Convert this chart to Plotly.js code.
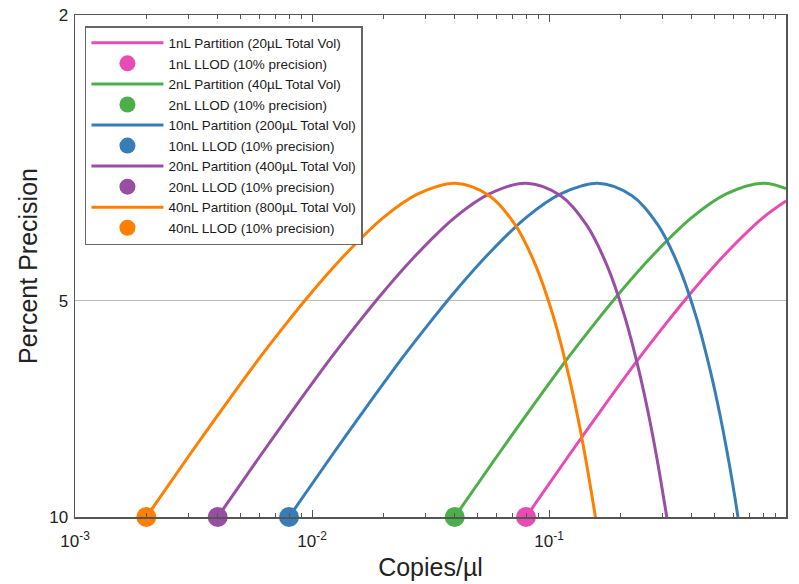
<!DOCTYPE html>
<html>
<head>
<meta charset="utf-8">
<script src="https://cdn.plot.ly/plotly-3.0.1.min.js"></script>
<style>html,body{margin:0;padding:0;background:#fff;}#chart{width:799px;height:584px;}</style>
</head>
<body>
<div id="chart"></div>
<script>
const yRead = [10, 8.25, 7.22, 6.01, 5.32, 4.86, 4.29, 3.83, 3.55, 3.43, 3.57, 3.92, 4.47, 5.24, 6.27, 7.24, 8.43, 9.37, 10];

const x40nL = [0.002, 0.003, 0.004, 0.006, 0.008, 0.01, 0.014, 0.02, 0.028, 0.04, 0.056, 0.072, 0.088, 0.104, 0.12, 0.132, 0.144, 0.152, 0.157];
const y40nL = yRead;
const x20nL = [0.004, 0.006, 0.008, 0.012, 0.016, 0.02, 0.028, 0.04, 0.056, 0.08, 0.112, 0.144, 0.176, 0.208, 0.24, 0.264, 0.288, 0.304, 0.314];
const y20nL = yRead;
const x10nL = [0.008, 0.012, 0.016, 0.024, 0.032, 0.04, 0.056, 0.08, 0.112, 0.16, 0.224, 0.288, 0.352, 0.416, 0.48, 0.528, 0.576, 0.608, 0.627];
const y10nL = yRead;
const x2nL = [0.04, 0.06, 0.08, 0.12, 0.16, 0.2, 0.28, 0.4, 0.56, 0.8, 1.0];
const y2nL = [10, 8.25, 7.22, 6.01, 5.32, 4.86, 4.29, 3.83, 3.55, 3.43, 3.49];
const x1nL = [0.08, 0.12, 0.16, 0.24, 0.32, 0.4, 0.56, 0.8, 1.0];
const y1nL = [10, 8.25, 7.22, 6.01, 5.32, 4.86, 4.29, 3.83, 3.63];

// LLOD points (10% precision)
const llodX = {p1: 0.08, p2: 0.04, p10: 0.008, p20: 0.004, p40: 0.002};
const llodY = 10;

const lineNames = ['1nL Partition (20µL Total Vol)', '2nL Partition (40µL Total Vol)', '10nL Partition (200µL Total Vol)', '20nL Partition (400µL Total Vol)', '40nL Partition (800µL Total Vol)'];
const llodNames = ['1nL LLOD (10% precision)', '2nL LLOD (10% precision)', '10nL LLOD (10% precision)', '20nL LLOD (10% precision)', '40nL LLOD (10% precision)'];
const colors = ['#e84bb4', '#4daf4a', '#377eb8', '#984ea3', '#ff7f00'];

const xTickVals = [0.001, 0.01, 0.1, 1];
const xTickText = ['10<sup>-3</sup>', '10<sup>-2</sup>', '10<sup>-1</sup>', '10<sup>0</sup>'];
const yTickVals = [2, 5, 10];
const yTickText = ['2', '5', '10'];

const curves = [[x1nL, y1nL], [x2nL, y2nL], [x10nL, y10nL], [x20nL, y20nL], [x40nL, y40nL]];
const llods = [llodX.p1, llodX.p2, llodX.p10, llodX.p20, llodX.p40];

const traces = [];
curves.forEach((c, i) => {
  traces.push({x: c[0], y: c[1], type: 'scatter', mode: 'lines', name: lineNames[i],
    line: {color: colors[i], width: 3, shape: 'spline', smoothing: 1}});
  traces.push({x: [llods[i]], y: [llodY], type: 'scatter', mode: 'markers', name: llodNames[i],
    marker: {color: colors[i], size: 20}, cliponaxis: false});
});

const minorVals = [];
for (let d = -3; d < 0; d++) for (let k = 2; k <= 9; k++) minorVals.push(k * Math.pow(10, d));

const font = 'Liberation Sans, Arial, sans-serif';
const layout = {
  width: 799, height: 584,
  margin: {l: 75, r: 13, t: 15, b: 67},
  paper_bgcolor: '#fff', plot_bgcolor: '#fff',
  font: {family: font, color: '#222'},
  showlegend: true,
  legend: {x: 0.014, y: 0.978, xanchor: 'left', yanchor: 'top',
    bgcolor: '#fff', bordercolor: '#666', borderwidth: 1.5,
    font: {family: font, size: 13.5, color: '#1a1a1a'}, itemwidth: 72, tracegroupgap: 0},
  xaxis: {type: 'log', range: [-3, 0], tickmode: 'array', tickvals: xTickVals, ticktext: xTickText,
    ticks: 'inside', ticklen: 7, tickwidth: 1, tickcolor: '#555', ticklabelstandoff: 8,
    minor: {tickmode: 'array', tickvals: minorVals, ticks: 'inside', ticklen: 4, tickcolor: '#555', showgrid: false},
    showline: true, linecolor: '#555', linewidth: 1.5, mirror: 'ticks',
    showgrid: false, zeroline: false,
    tickfont: {family: font, size: 17, color: '#222'},
    title: {text: 'Copies/µl', font: {family: font, size: 25, color: '#222'}, standoff: 8}},
  yaxis: {type: 'log', range: [1, Math.log10(2)], tickmode: 'array', tickvals: yTickVals, ticktext: yTickText,
    ticks: '', ticklabelstandoff: 2, showline: true, linecolor: '#555', linewidth: 1.5, mirror: true,
    showgrid: true, gridcolor: '#bbb', gridwidth: 1, zeroline: false,
    tickfont: {family: font, size: 17, color: '#222'},
    title: {text: 'Percent Precision', font: {family: font, size: 25, color: '#222'}, standoff: 4}}
};

Plotly.newPlot('chart', traces, layout, {displayModeBar: false, staticPlot: true});
</script>
</body>
</html>
